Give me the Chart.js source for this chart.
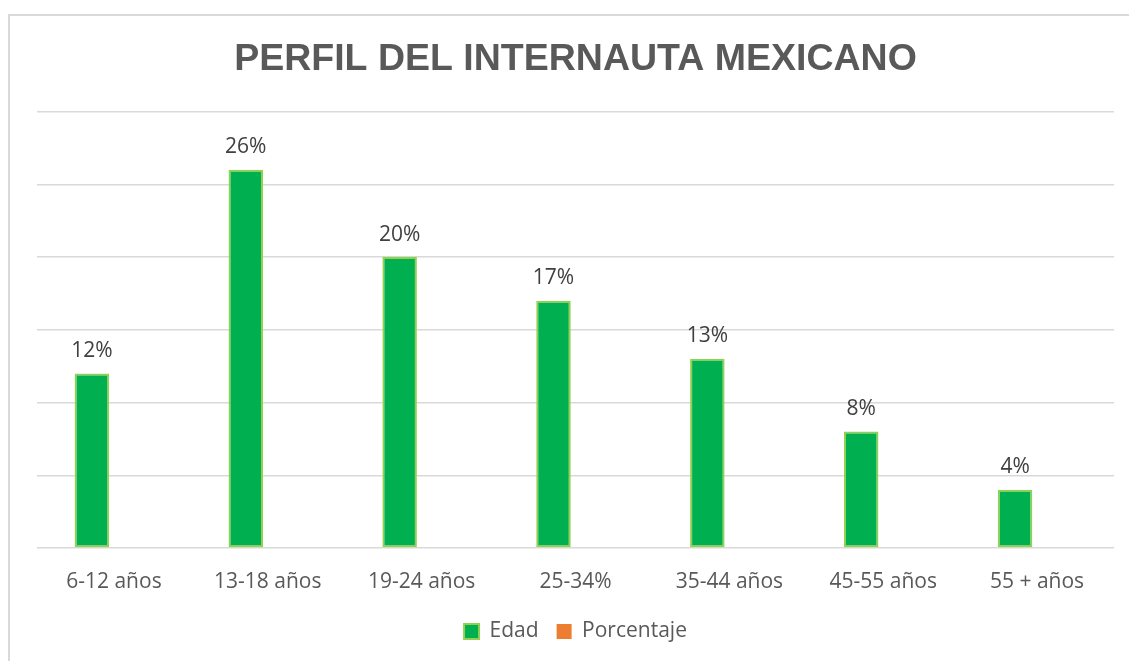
<!DOCTYPE html>
<html>
<head>
<meta charset="utf-8">
<script src="https://cdn.jsdelivr.net/npm/chart.js@4/dist/chart.umd.min.js"></script>
<style>
  html, body { margin: 0; padding: 0; background: #fff; overflow: hidden; width: 1129px; height: 661px; }
  #frame { position: absolute; left: 8px; top: 14px; width: 1150px; height: 700px;
           border-left: 2px solid #d9d9d9; border-top: 2px solid #d9d9d9; }
  #wrap { position: absolute; left: 0px; top: 0px; width: 1133px; height: 660px; }
</style>
</head>
<body>
<div id="frame"><div id="wrap"><canvas id="c"></canvas></div></div>
<script>
const title = 'PERFIL DEL INTERNAUTA MEXICANO';
const categories = ['6-12 años', '13-18 años', '19-24 años', '25-34%', '35-44 años', '45-55 años', '55 + años'];
const edad = [12, 26, 20, 17, 13, 8, 4];
const porcentaje = [null, null, null, null, null, null, null];
const yTicks = [0, 5, 10, 15, 20, 25, 30];

const FONT = "'Open Sans', 'Noto Sans', sans-serif";

const barLabels = {
  id: 'barLabels',
  afterDatasetsDraw(chart) {
    const ctx = chart.ctx;
    const meta = chart.getDatasetMeta(0);
    ctx.save();
    ctx.font = '21px ' + FONT;
    ctx.fillStyle = '#404040';
    ctx.textAlign = 'center';
    ctx.textBaseline = 'alphabetic';
    meta.data.forEach((bar, i) => {
      const v = chart.data.datasets[0].data[i];
      if (v == null) return;
      ctx.fillText(v + '%', bar.x, bar.y - 16.5);
    });
    ctx.restore();
  }
};

new Chart(document.getElementById('c'), {
  type: 'bar',
  data: {
    labels: categories,
    datasets: [
      { label: 'Edad', data: edad, backgroundColor: '#00B050', borderColor: '#92D050', borderWidth: 2,
        borderSkipped: false, categoryPercentage: 0.572, barPercentage: 0.784 },
      { label: 'Porcentaje', data: porcentaje, backgroundColor: '#ED7D31', borderColor: '#ED7D31', borderWidth: 0,
        categoryPercentage: 0.572, barPercentage: 0.784 }
    ]
  },
  options: {
    responsive: true,
    maintainAspectRatio: false,
    animation: false,
    layout: { padding: { left: 27, right: 29, top: 0, bottom: 24 } },
    plugins: {
      title: {
        display: true, text: title, color: '#595959',
        font: { family: "'Liberation Sans', Arial, sans-serif", size: 37.5, weight: 'bold' },
        padding: { top: 21, bottom: 29.5 }
      },
      legend: {
        position: 'bottom',
        labels: { font: { family: FONT, size: 21 }, color: '#595959', boxWidth: 15, boxHeight: 15, padding: 18 }
      },
      tooltip: { enabled: false }
    },
    scales: {
      x: {
        grid: { display: false, drawTicks: false },
        border: { display: false },
        ticks: { font: { family: FONT, size: 21 }, color: '#595959', padding: 21, maxRotation: 0, autoSkip: false },
        afterFit(scale) { scale.height = 55; }
      },
      y: {
        min: 0, max: 30,
        afterBuildTicks(scale) { scale.ticks = yTicks.map(v => ({ value: v })); },
        grid: { color: '#D9D9D9', lineWidth: 1.5, drawTicks: false },
        border: { display: false },
        ticks: { display: false }
      }
    }
  },
  plugins: [barLabels]
});
</script>
</body>
</html>
